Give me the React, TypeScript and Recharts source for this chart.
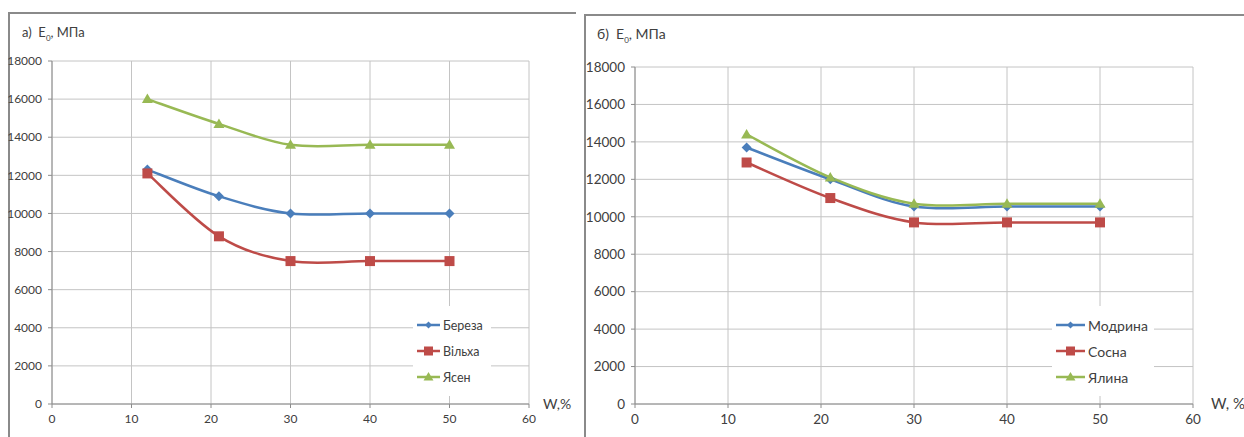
import { CartesianGrid, Line, LineChart, XAxis, YAxis } from "recharts";

const moisture = [12, 21, 30, 40, 50];

// panel a)
const berezaValues = [12300, 10900, 10000, 10000, 10000];
const vilkhaValues = [12100, 8800, 7500, 7500, 7500];
const yasenValues = [16000, 14700, 13600, 13600, 13600];

// panel б)
const modrynaValues = [13700, 12000, 10550, 10550, 10550];
const sosnaValues = [12900, 11000, 9700, 9700, 9700];
const yalynaValues = [14400, 12100, 10700, 10700, 10700];

const xTicks = [0, 10, 20, 30, 40, 50, 60];
const yTicks = [0, 2000, 4000, 6000, 8000, 10000, 12000, 14000, 16000, 18000];

const BLUE = "#4a7ebb";
const RED = "#be4b48";
const GREEN = "#98b954";
const TEXT = "#404040";
const FONT = "Lato, 'Open Sans', sans-serif";

type Marker = "diamond" | "square" | "triangle";

// Excel-like smoothed line (Catmull-Rom through the points)
const smoothCurve = (ctx: any) => {
  let pts: [number, number][] = [];
  return {
    areaStart() {},
    areaEnd() {},
    lineStart() {
      pts = [];
    },
    point(x: number, y: number) {
      pts.push([+x, +y]);
    },
    lineEnd() {
      if (!pts.length) return;
      ctx.moveTo(pts[0][0], pts[0][1]);
      for (let i = 0; i < pts.length - 1; i++) {
        const p0 = pts[Math.max(i - 1, 0)];
        const p1 = pts[i];
        const p2 = pts[i + 1];
        const p3 = pts[Math.min(i + 2, pts.length - 1)];
        ctx.bezierCurveTo(
          p1[0] + (p2[0] - p0[0]) / 6,
          p1[1] + (p2[1] - p0[1]) / 6,
          p2[0] - (p3[0] - p1[0]) / 6,
          p2[1] - (p3[1] - p1[1]) / 6,
          p2[0],
          p2[1]
        );
      }
    },
  };
};

function markerShape(kind: Marker, cx: number, cy: number, color: string, s: number, key?: string) {
  if (kind === "diamond")
    return (
      <path
        key={key}
        d={`M${cx},${cy - s}L${cx + s},${cy}L${cx},${cy + s}L${cx - s},${cy}Z`}
        fill={color}
      />
    );
  if (kind === "square")
    return <rect key={key} x={cx - s} y={cy - s} width={s * 2} height={s * 2} fill={color} />;
  return (
    <path
      key={key}
      d={`M${cx},${cy - s * 1.1}L${cx + s * 1.1},${cy + s * 0.8}L${cx - s * 1.1},${cy + s * 0.8}Z`}
      fill={color}
    />
  );
}

type SeriesDef = { name: string; values: number[]; color: string; marker: Marker };

const buildRows = (series: SeriesDef[]) =>
  moisture.map((w, i) => {
    const row: Record<string, number> = { w };
    series.forEach((s) => (row[s.name] = s.values[i]));
    return row;
  });

type PanelProps = {
  series: SeriesDef[];
  left: number;
  width: number;
  margin: { top: number; right: number; bottom: number; left: number };
  yWidth: number;
  fontSize: number;
  legendBox: { left: number; top: number; width: number; lineW: number; fontSize: number };
};

function Panel({ series, left, width, margin, yWidth, fontSize, legendBox }: PanelProps) {
  const rows = buildRows(series);

  return (
    <div style={{ position: "absolute", left, top: 0, width, height: 437 }}>
      <LineChart width={width} height={437} data={rows} margin={margin}>
        <CartesianGrid stroke="#c4c4c4" strokeWidth={1} />
        <XAxis
          dataKey="w"
          type="number"
          domain={[0, 60]}
          ticks={xTicks}
          height={20}
          stroke="#8c8c8c"
          tickSize={4}
          tickMargin={6}
          tick={{ fill: TEXT, fontSize, fontFamily: FONT }}
        />
        <YAxis
          type="number"
          domain={[0, 18000]}
          ticks={yTicks}
          width={yWidth}
          stroke="#8c8c8c"
          tickSize={4}
          tickMargin={6}
          tick={{ fill: TEXT, fontSize, fontFamily: FONT }}
        />
        {series.map((s) => (
          <Line
            key={s.name}
            dataKey={s.name}
            name={s.name}
            type={smoothCurve as any}
            stroke={s.color}
            strokeWidth={2.5}
            isAnimationActive={false}
            dot={(p: any) => markerShape(s.marker, p.cx, p.cy, s.color, 5, `${s.name}-${p.index}`)}
            activeDot={false}
          />
        ))}
      </LineChart>
      <div
        style={{
          position: "absolute",
          left: legendBox.left,
          top: legendBox.top,
          width: legendBox.width,
          background: "#fff",
          padding: "6px 4px",
          boxSizing: "border-box",
          fontFamily: FONT,
          fontSize: legendBox.fontSize,
          color: TEXT,
        }}
      >
        {series.map((s) => (
          <div key={s.name} style={{ display: "flex", alignItems: "center", height: 26 }}>
            <svg width={legendBox.lineW + 2} height={12} style={{ marginRight: 3 }}>
              <line x1={0} x2={legendBox.lineW + 2} y1={6} y2={6} stroke={s.color} strokeWidth={2.5} />
              {markerShape(s.marker, (legendBox.lineW + 2) / 2, 6, s.color, s.marker === "diamond" ? 3.5 : 4.5)}
            </svg>
            <span>{s.name}</span>
          </div>
        ))}
      </div>
    </div>
  );
}

const seriesA: SeriesDef[] = [
  { name: "Береза", values: berezaValues, color: BLUE, marker: "diamond" },
  { name: "Вільха", values: vilkhaValues, color: RED, marker: "square" },
  { name: "Ясен", values: yasenValues, color: GREEN, marker: "triangle" },
];

const seriesB: SeriesDef[] = [
  { name: "Модрина", values: modrynaValues, color: BLUE, marker: "diamond" },
  { name: "Сосна", values: sosnaValues, color: RED, marker: "square" },
  { name: "Ялина", values: yalynaValues, color: GREEN, marker: "triangle" },
];

export default function App() {
  return (
    <div
      style={{
        position: "fixed",
        left: 0,
        top: 0,
        width: 1244,
        height: 437,
        background: "#fff",
        overflow: "hidden",
        fontFamily: FONT,
        color: TEXT,
      }}
    >
      <div
        style={{
          position: "absolute",
          left: 8,
          top: 12,
          width: 566,
          height: 440,
          borderTop: "2px solid #8a8a8a",
          borderLeft: "2px solid #8a8a8a",
        }}
      />
      <div
        style={{
          position: "absolute",
          left: 584,
          top: 14,
          width: 670,
          height: 440,
          borderTop: "2px solid #8a8a8a",
          borderLeft: "2px solid #8a8a8a",
        }}
      />
      <Panel
        series={seriesA}
        left={0}
        width={575}
        margin={{ top: 61, right: 46, bottom: 13, left: 12 }}
        yWidth={40}
        fontSize={12}
        legendBox={{ left: 413, top: 306, width: 78, lineW: 21, fontSize: 12.5 }}
      />
      <Panel
        series={seriesB}
        left={585}
        width={659}
        margin={{ top: 67, right: 51, bottom: 13, left: 0 }}
        yWidth={50}
        fontSize={13.5}
        legendBox={{ left: 467, top: 306, width: 102, lineW: 27, fontSize: 14 }}
      />
      <div style={{ position: "absolute", left: 22, top: 24, fontSize: 13, whiteSpace: "nowrap" }}>
        а)&nbsp; E<sub style={{ fontSize: 8 }}>0</sub>, МПа
      </div>
      <div style={{ position: "absolute", left: 597, top: 25, fontSize: 14, whiteSpace: "nowrap" }}>
        б)&nbsp; E<sub style={{ fontSize: 8 }}>0</sub>, МПа
      </div>
      <div style={{ position: "absolute", left: 543, top: 395, fontSize: 14, whiteSpace: "nowrap" }}>
        W,%
      </div>
      <div style={{ position: "absolute", left: 1211, top: 394, fontSize: 15, whiteSpace: "nowrap" }}>
        W, %
      </div>
    </div>
  );
}
